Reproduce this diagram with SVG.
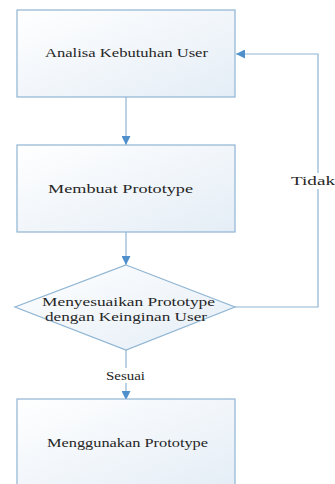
<svg xmlns="http://www.w3.org/2000/svg" width="335" height="484" viewBox="0 0 335 484">
<style>
.box{fill:url(#g);stroke:#8fb5d3;stroke-width:1.2}
.t{font-family:"Liberation Serif","Times New Roman",serif;font-size:12px;fill:#262626}
.c{fill:none;stroke:#8fb5d3;stroke-width:1.2}
</style>
<defs>
<linearGradient id="g" x1="0" y1="0" x2="1" y2="1">
<stop offset="0" stop-color="#ffffff"/>
<stop offset="1" stop-color="#e4edf6"/>
</linearGradient>
<marker id="a" viewBox="0 0 10 10" refX="10" refY="5" markerWidth="10" markerHeight="9" markerUnits="userSpaceOnUse" orient="auto">
<path d="M0,0 L10,5 L0,10 z" fill="#4f8fcc"/>
</marker>
</defs>
<rect width="335" height="484" fill="#ffffff"/>
<g id="connectors">
<line class="c" x1="126" y1="97" x2="126" y2="145" marker-end="url(#a)"/>
<line class="c" x1="126" y1="232" x2="126" y2="265" marker-end="url(#a)"/>
<polyline class="c" points="235,307 318,307 318,54 236,54" marker-end="url(#a)"/>
<line class="c" x1="126" y1="350" x2="126" y2="400" marker-end="url(#a)"/>
<rect x="103" y="368" width="46" height="15" fill="#ffffff"/>
<text class="t" x="106" y="380" textLength="39" lengthAdjust="spacingAndGlyphs">Sesuai</text>
<rect x="290" y="173" width="45" height="16" fill="#ffffff"/>
<text class="t" x="291" y="185" textLength="44" lengthAdjust="spacingAndGlyphs">Tidak</text>
</g>
<g id="n1">
<rect class="box" x="17" y="10" width="218" height="87"/>
<text class="t" x="45" y="57" textLength="163" lengthAdjust="spacingAndGlyphs">Analisa Kebutuhan User</text>
</g>
<g id="n2">
<rect class="box" x="17" y="145" width="218" height="87"/>
<text class="t" x="48" y="193" textLength="145" lengthAdjust="spacingAndGlyphs">Membuat Prototype</text>
</g>
<g id="n3">
<polygon class="box" points="126,265 235,307 126,350 15,307"/>
<text class="t" x="42" y="306" textLength="173" lengthAdjust="spacingAndGlyphs">Menyesuaikan Prototype</text>
<text class="t" x="45" y="321" textLength="162" lengthAdjust="spacingAndGlyphs">dengan Keinginan User</text>
</g>
<g id="n4">
<rect class="box" x="17" y="399" width="218" height="90"/>
<text class="t" x="47" y="447" textLength="161" lengthAdjust="spacingAndGlyphs">Menggunakan Prototype</text>
</g>
</svg>
